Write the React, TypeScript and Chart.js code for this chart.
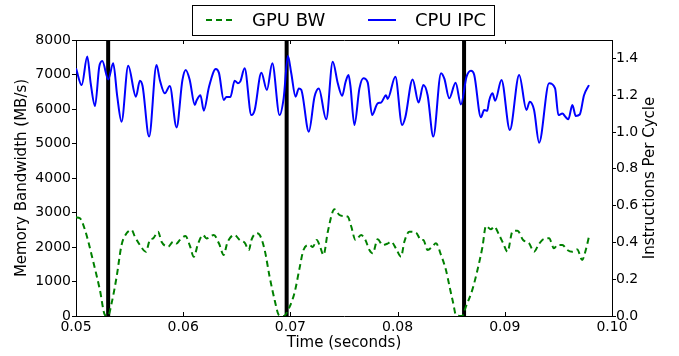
import React, { useEffect, useRef } from "react";
import { Chart, registerables } from "chart.js";

Chart.register(...registerables);

const FONT = "'DejaVu Sans', 'Liberation Sans', sans-serif";

const xTickValues = [0.05, 0.06, 0.07, 0.08, 0.09, 0.1];
const markerTimes = [0.053, 0.06965, 0.0862];
const rightTitle = "Instructions Per Cycle";

const cpuTime = [
  0.05, 0.05053, 0.05105, 0.05137, 0.05177, 0.05217, 0.05245, 0.05301, 0.05347, 0.05385,
  0.05425, 0.05487, 0.05559, 0.05596, 0.05621, 0.05682, 0.05751, 0.05782, 0.05829, 0.05875,
  0.05938, 0.05993, 0.06024, 0.06061, 0.06108, 0.06124, 0.06161, 0.06192, 0.06241, 0.06304,
  0.06334, 0.06378, 0.06403, 0.0644, 0.0648, 0.06511, 0.06533, 0.06573, 0.06636, 0.06667,
  0.06729, 0.06781, 0.06831, 0.06899, 0.06937, 0.06977, 0.07008, 0.07048, 0.07079, 0.07101,
  0.07172, 0.07225, 0.07265, 0.07334, 0.07395, 0.07442, 0.07483, 0.07514, 0.07542, 0.0756,
  0.07597, 0.07644, 0.07681, 0.07721, 0.07762, 0.07814, 0.07846, 0.07892, 0.07907, 0.07979,
  0.08042, 0.08072, 0.0814, 0.08196, 0.0824, 0.0828, 0.08333, 0.08405, 0.08436, 0.08482,
  0.08541, 0.08591, 0.08643, 0.08684, 0.08715, 0.08777, 0.08808, 0.08836, 0.08854, 0.08885,
  0.0891, 0.08969, 0.09047, 0.09134, 0.09202, 0.09233, 0.09273, 0.0932, 0.09413, 0.09469,
  0.095, 0.09537, 0.09569, 0.09593, 0.0963, 0.09662, 0.09699, 0.09739, 0.09785,
];
const cpuIpc = [
  1.346, 1.255, 1.41, 1.265, 1.141, 1.355, 1.386, 1.286, 1.373, 1.192,
  1.056, 1.36, 1.192, 1.279, 1.25, 0.975, 1.364, 1.283, 1.21, 1.25,
  1.025, 1.283, 1.337, 1.283, 1.147, 1.17, 1.2, 1.116, 1.246, 1.342,
  1.32, 1.174, 1.19, 1.19, 1.279, 1.265, 1.275, 1.346, 1.092, 1.12,
  1.322, 1.228, 1.373, 1.092, 1.183, 1.413, 1.319, 1.192, 1.237, 1.23,
  1.002, 1.192, 1.237, 1.069, 1.382, 1.265, 1.197, 1.27, 1.31, 1.25,
  1.038, 1.237, 1.292, 1.27, 1.092, 1.156, 1.16, 1.2, 1.18, 1.3,
  1.038, 1.08, 1.286, 1.16, 1.255, 1.2, 0.975, 1.319, 1.29, 1.183,
  1.268, 1.15, 1.3, 1.333, 1.31, 1.08, 1.12, 1.115, 1.17, 1.21,
  1.17, 1.283, 1.011, 1.31, 1.12, 1.165, 1.12, 0.942, 1.265, 1.237,
  1.092, 1.1, 1.08, 1.069, 1.147, 1.087, 1.095, 1.2, 1.255,
];

const gpuTime = [
  0.05, 0.05037, 0.05084, 0.05161, 0.05223, 0.0527, 0.05298, 0.05332, 0.05379, 0.05425,
  0.05472, 0.05519, 0.05549, 0.05596, 0.05652, 0.05689, 0.0572, 0.05766, 0.05798, 0.05859,
  0.05906, 0.05938, 0.05968, 0.06021, 0.06061, 0.06099, 0.06139, 0.06185, 0.06217, 0.06285,
  0.06334, 0.06378, 0.06409, 0.06434, 0.0648, 0.06527, 0.06573, 0.06613, 0.06636, 0.06682,
  0.06713, 0.0676, 0.06806, 0.06853, 0.06893, 0.06937, 0.06986, 0.07039, 0.07085, 0.07122,
  0.07178, 0.07209, 0.07246, 0.07278, 0.07309, 0.07349, 0.07411, 0.07458, 0.07489, 0.07535,
  0.07567, 0.07607, 0.0766, 0.077, 0.07737, 0.07768, 0.07814, 0.07861, 0.07907, 0.07939,
  0.07986, 0.08032, 0.08063, 0.0811, 0.08172, 0.08219, 0.0824, 0.0828, 0.08321, 0.08358,
  0.08405, 0.08451, 0.08488, 0.08519, 0.08544, 0.086, 0.08637, 0.08699, 0.08745, 0.08792,
  0.08824, 0.0887, 0.08901, 0.08947, 0.08985, 0.09025, 0.09071, 0.09118, 0.09171, 0.09227,
  0.09273, 0.09313, 0.0935, 0.09413, 0.09459, 0.0949, 0.09537, 0.09583, 0.0963, 0.09676,
  0.09722, 0.09754, 0.09785,
];
const gpuBw = [
  2861, 2832, 2493, 1574, 754, 30, 0, 368, 1139, 2058,
  2397, 2493, 2300, 2058, 1864, 2203, 2250, 2444, 2154, 2009,
  2154, 2100, 2200, 2319, 2050, 1719, 2100, 2348, 2250, 2348,
  2100, 1768, 2100, 2252, 2348, 2200, 2125, 1913, 2200, 2397,
  2350, 1913, 1139, 464, 29, 0, 223, 680, 1380, 1913,
  2058, 2000, 2203, 2000, 1768, 2444, 3093, 2928, 2900, 2879,
  2600, 2203, 2348, 2200, 1913, 1817, 2222, 2058, 2100, 2154,
  1950, 1719, 2154, 2444, 2415, 2203, 2203, 1913, 2000, 2106,
  1768, 1333, 803, 368, 29, 0, 270, 780, 1333, 2009,
  2609, 2513, 2589, 2350, 2106, 1864, 2444, 2473, 2203, 2106,
  1864, 2058, 2203, 2252, 1962, 2058, 2058, 1913, 1864, 1930,
  1623, 1900, 2299,
];

const toPoints = (xs: number[], ys: number[]) => xs.map((x, i) => ({ x, y: ys[i] }));

export default function App() {
  const ref = useRef<HTMLCanvasElement>(null);

  useEffect(() => {
    document.body.style.margin = "0";
    const canvas = ref.current!;

    const framePlugin = {
      id: "frameAndLegend",
      afterDraw(chart: any) {
        const { ctx, chartArea } = chart;
        const { left, right, top, bottom } = chartArea;
        ctx.save();
        ctx.strokeStyle = "#000";
        ctx.lineWidth = 1;
        // top frame line
        ctx.beginPath();
        ctx.moveTo(left, Math.round(top) + 0.5);
        ctx.lineTo(right + 1, Math.round(top) + 0.5);
        ctx.stroke();
        // inward x ticks (top and bottom)
        const xs = chart.scales.x;
        xTickValues.forEach((v) => {
          const px = Math.round(xs.getPixelForValue(v)) + 0.5;
          ctx.beginPath();
          ctx.moveTo(px, bottom);
          ctx.lineTo(px, bottom - 4);
          ctx.moveTo(px, top);
          ctx.lineTo(px, top + 4);
          ctx.stroke();
        });
        // right axis title (reads bottom-to-top, like matplotlib)
        ctx.save();
        ctx.translate(650, (top + bottom) / 2);
        ctx.rotate(-Math.PI / 2);
        ctx.fillStyle = "#000";
        ctx.font = `15px ${FONT}`;
        ctx.textAlign = "center";
        ctx.textBaseline = "middle";
        ctx.fillText(rightTitle, 0, 0);
        ctx.restore();
        // legend
        ctx.fillStyle = "#fff";
        ctx.fillRect(192.5, 5.5, 302, 30);
        ctx.strokeStyle = "#000";
        ctx.lineWidth = 1;
        ctx.strokeRect(192.5, 5.5, 302, 30);
        ctx.lineWidth = 2;
        ctx.strokeStyle = "#008000";
        ctx.setLineDash([6, 4]);
        ctx.beginPath();
        ctx.moveTo(206, 20);
        ctx.lineTo(234, 20);
        ctx.stroke();
        ctx.setLineDash([]);
        ctx.strokeStyle = "#0000ff";
        ctx.beginPath();
        ctx.moveTo(368, 20);
        ctx.lineTo(396, 20);
        ctx.stroke();
        ctx.fillStyle = "#000";
        ctx.font = `18px ${FONT}`;
        ctx.textBaseline = "middle";
        ctx.textAlign = "left";
        ctx.fillText("GPU BW", 252, 21);
        ctx.fillText("CPU IPC", 415, 21);
        ctx.restore();
      },
    };

    const chart = new Chart(canvas, {
      type: "line",
      data: {
        datasets: [
          {
            label: "GPU BW",
            data: toPoints(gpuTime, gpuBw),
            yAxisID: "y",
            borderColor: "#008000",
            borderWidth: 2,
            borderDash: [6, 4],
            pointRadius: 0,
            fill: false,
            cubicInterpolationMode: "monotone",
          },
          {
            label: "CPU IPC",
            data: toPoints(cpuTime, cpuIpc),
            yAxisID: "y1",
            borderColor: "#0000ff",
            borderWidth: 2,
            pointRadius: 0,
            fill: false,
            cubicInterpolationMode: "monotone",
          },
          ...markerTimes.map((t) => ({
            label: "marker",
            data: [
              { x: t, y: 0 },
              { x: t, y: 8000 },
            ],
            yAxisID: "y",
            borderColor: "#000",
            borderWidth: 4,
            pointRadius: 0,
            fill: false,
          })),
        ],
      },
      options: {
        responsive: false,
        animation: false,
        devicePixelRatio: 1,
        layout: { padding: { top: 40, left: 0, right: 0, bottom: 0 } },
        plugins: { legend: { display: false }, tooltip: { enabled: false } },
        scales: {
          x: {
            type: "linear",
            position: "bottom",
            min: 0.05,
            max: 0.1,
            afterFit: (s: any) => {
              s.height = 40;
            },
            afterBuildTicks: (s: any) => {
              s.ticks = xTickValues.map((v) => ({ value: v }));
            },
            ticks: {
              callback: (v: any) => Number(v).toFixed(2),
              font: { family: FONT, size: 14 },
              color: "#000",
              padding: 3,
              maxRotation: 0,
              autoSkip: false,
            },
            grid: { display: false, drawTicks: false },
            border: { display: true, color: "#000", width: 1 },
            title: {
              display: true,
              text: "Time (seconds)",
              font: { family: FONT, size: 15 },
              color: "#000",
              padding: { top: 0, bottom: 4 },
            },
          },
          y: {
            type: "linear",
            position: "left",
            min: 0,
            max: 8000,
            afterFit: (s: any) => {
              s.width = 76;
            },
            ticks: {
              stepSize: 1000,
              callback: (v: any) => String(v),
              font: { family: FONT, size: 14 },
              color: "#000",
              padding: 1,
            },
            grid: { display: true, drawOnChartArea: false, drawTicks: true, tickLength: 4, color: "#000" },
            border: { display: true, color: "#000", width: 1 },
            title: {
              display: true,
              text: "Memory Bandwidth (MB/s)",
              font: { family: FONT, size: 15 },
              color: "#000",
              padding: { top: 13, bottom: 0 },
            },
          },
          y1: {
            type: "linear",
            position: "right",
            min: 0,
            max: 1.5,
            afterFit: (s: any) => {
              s.width = 67;
            },
            ticks: {
              stepSize: 0.2,
              includeBounds: false,
              callback: (v: any) => Number(v).toFixed(1),
              font: { family: FONT, size: 14 },
              color: "#000",
              padding: 0,
            },
            grid: { display: true, drawOnChartArea: false, drawTicks: true, tickLength: 4, color: "#000" },
            border: { display: true, color: "#000", width: 1 },
            title: { display: false },
          },
        },
      },
      plugins: [framePlugin],
    } as any);

    return () => chart.destroy();
  }, []);

  return <canvas ref={ref} width={679} height={356} style={{ display: "block" }} />;
}
